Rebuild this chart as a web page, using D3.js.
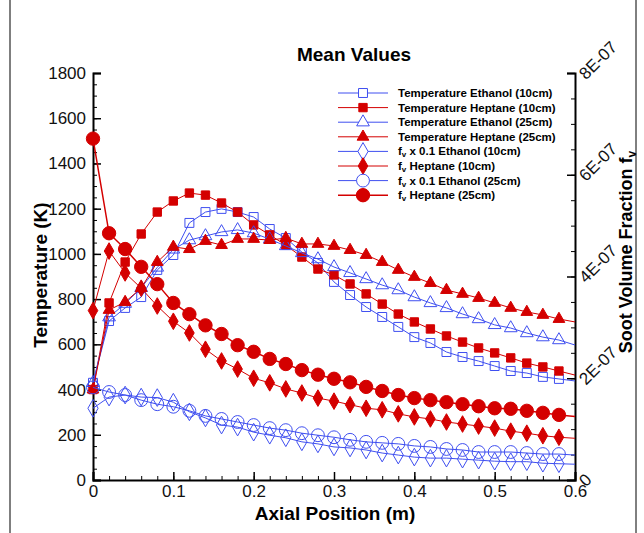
<!DOCTYPE html>
<html>
<head>
<meta charset="utf-8">
<script src="https://cdn.jsdelivr.net/npm/d3@7/dist/d3.min.js"></script>
<style>
  body { margin: 0; background: #fff; }
  text { font-family: "Liberation Sans", Arial, sans-serif; }
</style>
</head>
<body>
<svg id="chart" width="644" height="533"></svg>
<script>
// axial positions (m)
let positions = [0, 0.02, 0.04, 0.06, 0.08, 0.1, 0.12, 0.14, 0.16, 0.18, 0.2, 0.22, 0.24, 0.26, 0.28,
    0.3, 0.32, 0.34, 0.36, 0.38, 0.4, 0.42, 0.44, 0.46, 0.48, 0.5, 0.52, 0.54, 0.56, 0.58, 0.6];

// temperatures (K), left axis
let tempEthanol10 = [430, 703, 761, 809, 929, 995, 1137, 1185, 1199, 1185, 1163, 1110, 1070, 1008, 960,
    876, 818, 765, 721, 677, 632, 606, 566, 544, 526, 504, 482, 473, 456, 447, 438];
let tempHeptane10 = [400, 783, 964, 1088, 1185, 1234, 1269, 1260, 1225, 1185, 1128, 1084, 1039, 986, 933,
    907, 867, 823, 778, 734, 699, 668, 637, 610, 584, 562, 540, 517, 500, 482, 464];
let tempEthanol25 = [430, 720, 780, 850, 940, 1020, 1061, 1079, 1097, 1106, 1092, 1065, 1035, 1004, 977,
    942, 916, 889, 862, 840, 809, 783, 761, 734, 712, 686, 672, 650, 632, 619, 597];
let tempHeptane25 = [400, 752, 787, 849, 964, 1031, 1021, 1057, 1039, 1066, 1066, 1061, 1070, 1044, 1044,
    1035, 1017, 995, 964, 929, 898, 871, 840, 823, 805, 783, 761, 743, 730, 712, 699];

// soot volume fraction, right axis, in units of 1E-07
let fvEthanol10 = [1.41, 1.63, 1.67, 1.63, 1.62, 1.53, 1.34, 1.22, 1.08, 1.04, 0.94, 0.88, 0.83, 0.75, 0.71,
    0.65, 0.63, 0.59, 0.53, 0.49, 0.45, 0.43, 0.43, 0.41, 0.39, 0.37, 0.36, 0.36, 0.33, 0.32, 0.31];
let fvHeptane10 = [3.33, 4.50, 4.07, 3.77, 3.42, 3.12, 2.89, 2.57, 2.34, 2.18, 2.00, 1.91, 1.79, 1.71, 1.61,
    1.55, 1.48, 1.41, 1.38, 1.30, 1.24, 1.20, 1.14, 1.10, 1.06, 1.02, 0.96, 0.92, 0.87, 0.84, 0.82];
let fvEthanol25 = [1.82, 1.73, 1.67, 1.57, 1.49, 1.44, 1.36, 1.26, 1.20, 1.14, 1.08, 1.02, 0.98, 0.92, 0.88,
    0.84, 0.79, 0.75, 0.73, 0.71, 0.67, 0.65, 0.61, 0.59, 0.55, 0.55, 0.55, 0.53, 0.51, 0.51, 0.49];
let fvHeptane25 = [6.71, 4.85, 4.54, 4.19, 3.85, 3.48, 3.26, 3.04, 2.87, 2.65, 2.52, 2.38, 2.28, 2.16, 2.07,
    1.99, 1.92, 1.83, 1.75, 1.67, 1.61, 1.57, 1.53, 1.49, 1.45, 1.41, 1.40, 1.36, 1.32, 1.28, 1.25];

let tempTicks = [0, 200, 400, 600, 800, 1000, 1200, 1400, 1600, 1800];
let fvTicks = [0, 2, 4, 6, 8];
let xTicks = [0, 0.1, 0.2, 0.3, 0.4, 0.5, 0.6];

const red = "#d40000", blue = "#3f4ff0";

// series in legend order
let series = [
    {name: "Temperature Ethanol (10cm)", values: tempEthanol10, axis: "T", symbol: d3.symbolSquare, size: 80, fill: "none", color: blue, width: 1},
    {name: "Temperature Heptane (10cm)", values: tempHeptane10, axis: "T", symbol: d3.symbolSquare, size: 70, fill: red, color: red, width: 1},
    {name: "Temperature Ethanol (25cm)", values: tempEthanol25, axis: "T", symbol: d3.symbolTriangle, size: 70, fill: "none", color: blue, width: 1},
    {name: "Temperature Heptane (25cm)", values: tempHeptane25, axis: "T", symbol: d3.symbolTriangle, size: 60, fill: red, color: red, width: 1},
    {name: [" x 0.1 Ethanol (10cm)"], values: fvEthanol10, axis: "F", symbol: d3.symbolDiamond, size: 90, fill: "none", color: blue, width: 1},
    {name: [" Heptane (10cm)"], values: fvHeptane10, axis: "F", symbol: d3.symbolDiamond, size: 80, fill: red, color: red, width: 1},
    {name: [" x 0.1 Ethanol (25cm)"], values: fvEthanol25, axis: "F", symbol: d3.symbolCircle, size: 130, fill: "none", color: blue, width: 1},
    {name: [" Heptane (25cm)"], values: fvHeptane25, axis: "F", symbol: d3.symbolCircle, size: 140, fill: red, color: red, width: 1.5}
];

let svg = d3.select("#chart");
let mLeft = 93, mRight = 575, mTop = 73, mBottom = 480;

let xScale = d3.scaleLinear().domain([0, 0.6]).range([mLeft, mRight]);
let yTemp = d3.scaleLinear().domain([0, 1800]).range([mBottom, mTop]);
let yFv = d3.scaleLinear().domain([0, 8]).range([mBottom, mTop]);

// outer frame (top edge sits just above the picture)
svg.append("rect").attr("x", 10).attr("y", -5).attr("width", 626).attr("height", 560)
    .attr("fill", "none").attr("stroke", "#000").attr("stroke-width", 1);

// title
svg.append("text").attr("x", 354).attr("y", 61).attr("text-anchor", "middle")
    .style("font-size", "19px").style("font-weight", "bold").text("Mean Values");

// axes (ticks pointing inward)
let xAxis = d3.axisTop(xScale).tickValues(xTicks).tickSize(8).tickFormat(d3.format("~g"));
let gx = svg.append("g").attr("transform", "translate(0," + mBottom + ")").call(xAxis);
gx.selectAll(".tick text").attr("y", 17).attr("dy", "0").style("font-size", "17px");
gx.selectAll(".tick line").attr("stroke-width", 1.5);
svg.append("g").attr("transform", "translate(0," + mBottom + ")")
    .call(d3.axisTop(xScale).ticks(30).tickSize(4).tickFormat(""))
    .select(".domain").remove();

let yAxis = d3.axisRight(yTemp).tickValues(tempTicks).tickSize(8).tickFormat(d3.format("d"));
let gy = svg.append("g").attr("transform", "translate(" + mLeft + ",0)").call(yAxis);
gy.selectAll(".tick text").attr("x", -7).attr("text-anchor", "end").style("font-size", "17px");
gy.selectAll(".tick line").attr("stroke-width", 1.5);
svg.append("g").attr("transform", "translate(" + mLeft + ",0)")
    .call(d3.axisRight(yTemp).ticks(36).tickSize(4).tickFormat(""))
    .select(".domain").remove();

let fvAxis = d3.axisLeft(yFv).tickValues(fvTicks).tickSize(8);
let gf = svg.append("g").attr("transform", "translate(" + mRight + ",0)").call(fvAxis);
gf.selectAll(".tick text")
    .text(d => d === 0 ? "0" : d + "E-07")
    .attr("x", 0).attr("dy", 0)
    .attr("text-anchor", "start")
    .attr("transform", "translate(11,7) rotate(-45)")
    .style("font-size", "17px");
gf.selectAll(".tick line").attr("stroke-width", 1.5);
svg.append("g").attr("transform", "translate(" + mRight + ",0)")
    .call(d3.axisLeft(yFv).ticks(16).tickSize(4).tickFormat(""))
    .select(".domain").remove();

svg.selectAll(".domain").attr("stroke-width", 2);
svg.selectAll(".tick text").attr("fill", "#111");

// axis titles
svg.append("text").attr("x", 335).attr("y", 520).attr("text-anchor", "middle")
    .style("font-size", "19px").style("font-weight", "bold").text("Axial Position (m)");
svg.append("text").attr("transform", "translate(47,275) rotate(-90)").attr("text-anchor", "middle")
    .style("font-size", "19px").style("font-weight", "bold").text("Temperature (K)");
let rt = svg.append("text").attr("transform", "translate(632,252) rotate(-90)").attr("text-anchor", "middle")
    .style("font-size", "18px").style("font-weight", "bold");
rt.append("tspan").text("Soot Volume Fraction f");
rt.append("tspan").attr("dy", 4).style("font-size", "12px").text("v");

// lines and markers
series.forEach(function (s) {
    let yScale = s.axis === "T" ? yTemp : yFv;
    let line = d3.line().x((d, i) => xScale(positions[i])).y(d => yScale(d));
    let g = svg.append("g");
    g.append("path").datum(s.values).attr("d", line)
        .attr("fill", "none").attr("stroke", s.color).attr("stroke-width", s.width);
    g.selectAll("path.mark").data(s.values.slice(0, positions.length - 1)).enter()
        .append("path").attr("class", "mark")
        .attr("d", d3.symbol().type(s.symbol).size(s.size))
        .attr("transform", (d, i) => "translate(" + xScale(positions[i]) + "," + yScale(d) + ")")
        .attr("fill", s.fill).attr("stroke", s.color).attr("stroke-width", 1);
});

// legend
let legend = svg.append("g");
series.forEach(function (s, i) {
    let y = 93 + i * 14.6;
    legend.append("line").attr("x1", 338).attr("x2", 388).attr("y1", y).attr("y2", y)
        .attr("stroke", s.color).attr("stroke-width", s.width);
    legend.append("path").attr("d", d3.symbol().type(s.symbol).size(s.size))
        .attr("transform", "translate(363," + y + ")")
        .attr("fill", s.fill === "none" ? "#fff" : s.fill).attr("stroke", s.color);
    let t = legend.append("text").attr("x", 398).attr("y", y + 4)
        .style("font-size", "11.5px").style("font-weight", "bold");
    if (Array.isArray(s.name)) {
        t.append("tspan").text("f");
        t.append("tspan").attr("dy", 2).style("font-size", "8px").text("v");
        t.append("tspan").attr("dy", -2).text(s.name[0]);
    } else {
        t.text(s.name);
    }
});
</script>
</body>
</html>
